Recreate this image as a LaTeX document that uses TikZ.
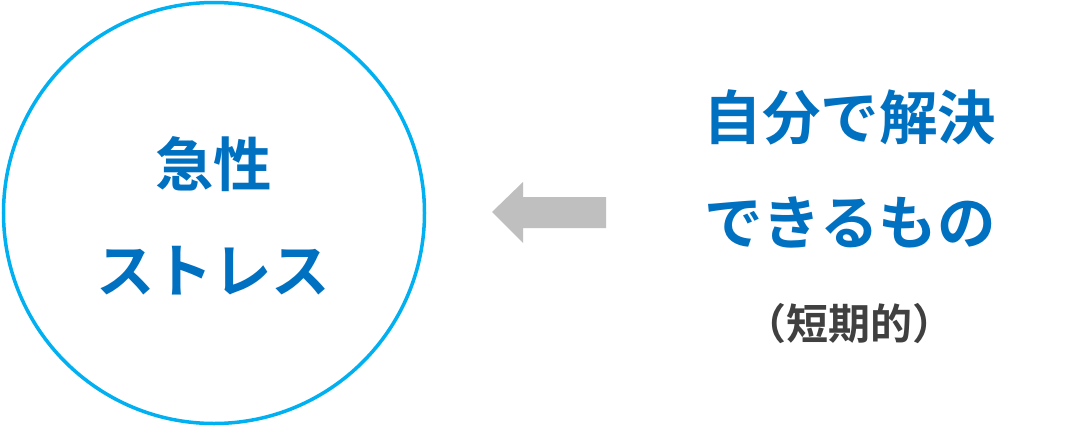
\documentclass[tikz,border=0pt]{standalone}
\usepackage{fontspec}
\newfontfamily\jpfont{Noto Sans CJK JP}[BoldFont={Noto Sans CJK JP Bold}]
\definecolor{ringblue}{HTML}{00B0F0}
\definecolor{textblue}{HTML}{0070C0}
\definecolor{arrowgray}{HTML}{BFBFBF}
\definecolor{notegray}{HTML}{404040}
\begin{document}
\begin{tikzpicture}[x=1pt,y=-1pt,
        bigtext/.style={font=\jpfont\bfseries\fontsize{58.5}{58.5}\selectfont, text=textblue,
            inner sep=0pt, text height=51.5pt, text depth=7pt},
        smalltext/.style={font=\jpfont\bfseries\fontsize{42}{42}\selectfont, text=notegray,
            inner sep=0pt, text height=37pt, text depth=5pt}]
        \fill[white] (0,0) rectangle (1076,426);
        \useasboundingbox (0,0) rectangle (1076,426);

        \node[circle, draw=ringblue, line width=3.5pt, minimum size=421pt, inner sep=0pt] (ring) at (214,213) {};
        \node[bigtext] (acute) at (213.5,164.5) {急性};
        \node[bigtext] (stress) at (213,270) {ストレス};

        \fill[arrowgray] (492,212) -- (523,182) -- (523,197) -- (606,197) -- (606,228)
            -- (523,228) -- (523,243) -- cycle;

        \node[bigtext] (self) at (850,117) {自分で解決};
        \node[bigtext] (able) at (850,222) {できるもの};
        \node[smalltext] (short) at (849,323) {（短期的）};
    \end{tikzpicture}
\end{document}
